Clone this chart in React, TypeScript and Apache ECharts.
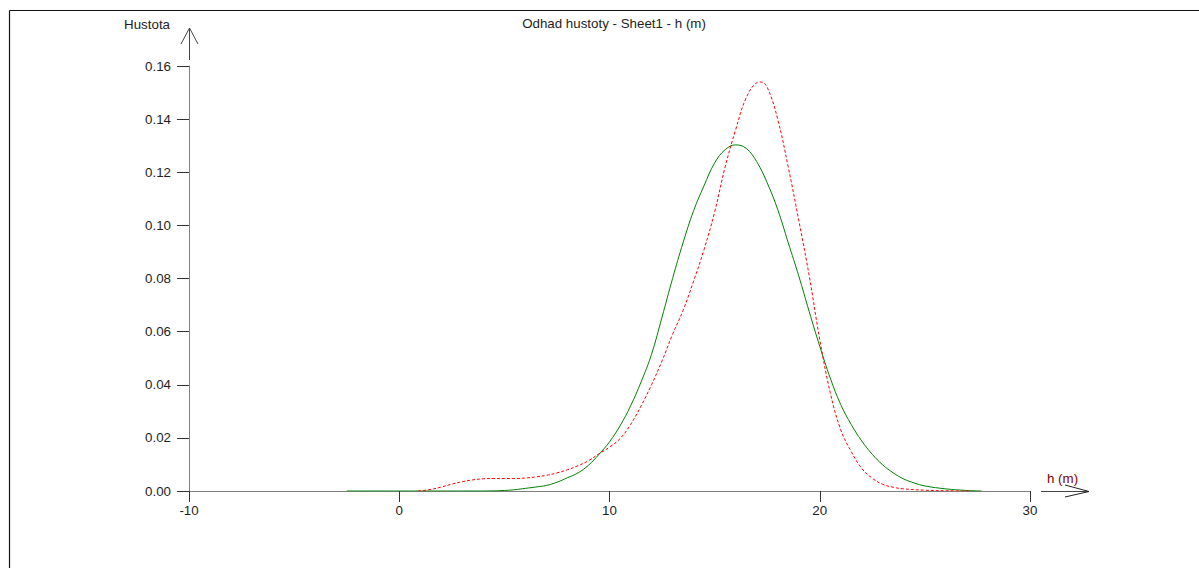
import React, { useEffect, useRef } from "react";
import * as echarts from "echarts";

const titleText = "Odhad hustoty - Sheet1 - h (m)";
const yName = "Hustota";
const xName = "h (m)";

const greenX = [-2.5, 0, 2, 4, 5, 5.5, 6, 6.5, 7, 7.5, 8, 8.5, 9, 9.5, 10, 10.5, 11, 11.5, 12, 12.5, 13, 13.5, 14, 14.5, 15, 15.5, 16, 16.5, 17, 17.5, 18, 18.5, 19, 19.5, 20, 20.5, 21, 21.5, 22, 22.5, 23, 23.5, 24, 24.5, 25, 26, 27, 27.7];
const greenY = [0, 0, 0, 0, 0.0002, 0.0005, 0.001, 0.0015, 0.0021, 0.0033, 0.005, 0.0068, 0.0097, 0.0138, 0.0185, 0.0245, 0.032, 0.041, 0.0515, 0.0655, 0.08, 0.0935, 0.1055, 0.115, 0.1235, 0.1285, 0.1303, 0.129, 0.124, 0.116, 0.106, 0.0935, 0.081, 0.0675, 0.0545, 0.0425, 0.0325, 0.025, 0.0188, 0.0138, 0.0098, 0.0068, 0.0045, 0.003, 0.0019, 0.0008, 0.0002, 0];

const redX = [0.9, 1.5, 2, 2.5, 3, 3.5, 4, 4.5, 5, 5.5, 6, 6.5, 7, 7.5, 8, 8.5, 9, 9.5, 10, 10.5, 11, 11.5, 12, 12.5, 13, 13.5, 14, 14.5, 15, 15.5, 16, 16.5, 17, 17.2, 17.5, 18, 18.5, 19, 19.5, 20, 20.5, 21, 21.5, 22, 22.5, 23, 23.5, 24, 25, 26, 27.2];
const redY = [0, 0.0006, 0.0015, 0.0026, 0.0035, 0.0042, 0.0046, 0.0047, 0.0047, 0.0047, 0.0049, 0.0053, 0.0059, 0.0068, 0.008, 0.0095, 0.0114, 0.014, 0.0165, 0.0197, 0.025, 0.032, 0.04, 0.049, 0.059, 0.068, 0.079, 0.091, 0.105, 0.122, 0.136, 0.148, 0.1537, 0.154, 0.152, 0.14, 0.122, 0.102, 0.081, 0.057, 0.037, 0.023, 0.0148, 0.0085, 0.0048, 0.0025, 0.0014, 0.0008, 0.0003, 0.0001, 0];

const xMin = -10;
const xMax = 30;
const xStep = 10;
const yMin = 0;
const yMax = 0.16;
const yStep = 0.02;

const FONT = "'Liberation Sans', Arial, sans-serif";
const FS = 13.33;

export default function App() {
  const ref = useRef<HTMLDivElement>(null);
  useEffect(() => {
    if (!ref.current) return;
    const chart = echarts.init(ref.current, null, { renderer: "svg" });
    const greenData = greenX.map((x, i) => [x, greenY[i]]);
    const redData = redX.map((x, i) => [x, redY[i]]);
    const textColor = "#1e1e1e";
    chart.setOption({
      animation: false,
      backgroundColor: "#ffffff",
      title: {
        text: titleText,
        left: 609,
        top: 12,
        textAlign: "center",
        textStyle: { fontFamily: FONT, fontSize: FS, fontWeight: "normal", color: textColor },
      },
      grid: { left: 189, right: 169, top: 66, bottom: 77, containLabel: false },
      xAxis: {
        type: "value",
        min: xMin,
        max: xMax,
        interval: xStep,
        splitLine: { show: false },
        axisLine: { show: true, onZero: false, lineStyle: { color: "#808080", width: 1 } },
        axisTick: { show: true, length: 11, lineStyle: { color: "#333333" } },
        axisLabel: { margin: 13, fontFamily: FONT, fontSize: FS, color: textColor },
      },
      yAxis: {
        type: "value",
        min: yMin,
        max: yMax,
        interval: yStep,
        splitLine: { show: false },
        axisLine: { show: true, onZero: false, lineStyle: { color: "#808080", width: 1 } },
        axisTick: { show: true, length: 12, lineStyle: { color: "#333333" } },
        axisLabel: {
          margin: 18,
          fontFamily: FONT,
          fontSize: FS,
          color: textColor,
          formatter: (v: number) => v.toFixed(2),
        },
      },
      graphic: [
        { type: "line", shape: { x1: 9.5, y1: 10.5, x2: 1199, y2: 10.5 }, style: { stroke: "#111", lineWidth: 1.2 } },
        { type: "line", shape: { x1: 9.5, y1: 10.5, x2: 9.5, y2: 568 }, style: { stroke: "#111", lineWidth: 1.2 } },
        { type: "line", shape: { x1: 189.5, y1: 60, x2: 189.5, y2: 28 }, style: { stroke: "#444", lineWidth: 1 } },
        { type: "polyline", shape: { points: [[181, 44], [189.5, 28], [198, 44]] }, style: { stroke: "#444", lineWidth: 1, fill: null } },
        { type: "line", shape: { x1: 1041, y1: 491.5, x2: 1089, y2: 491.5 }, style: { stroke: "#444", lineWidth: 1 } },
        { type: "polyline", shape: { points: [[1065, 485], [1089, 491.5], [1065, 497]] }, style: { stroke: "#222", lineWidth: 1, fill: null } },
        {
          type: "text",
          x: 170,
          y: 24,
          style: { text: yName, fontFamily: FONT, fontSize: FS, fill: "#2a1a1a", align: "right", verticalAlign: "middle" },
        },
        {
          type: "text",
          x: 1047,
          y: 478,
          style: { text: xName, fontFamily: FONT, fontSize: FS, fill: "#7a0000", align: "left", verticalAlign: "middle" },
        },
      ],
      series: [
        {
          name: "green",
          type: "line",
          data: greenData,
          smooth: 0.4,
          showSymbol: false,
          symbol: "none",
          lineStyle: { color: "#008000", width: 1 },
          z: 3,
        },
        {
          name: "red",
          type: "line",
          data: redData,
          smooth: 0.4,
          showSymbol: false,
          symbol: "none",
          lineStyle: { color: "#ff0000", width: 1, type: [3, 2] },
          z: 4,
        },
      ],
    });
    return () => chart.dispose();
  }, []);
  return (
    <div
      ref={ref}
      style={{ position: "fixed", left: 0, top: 0, width: 1199, height: 568, background: "#fff" }}
    />
  );
}
